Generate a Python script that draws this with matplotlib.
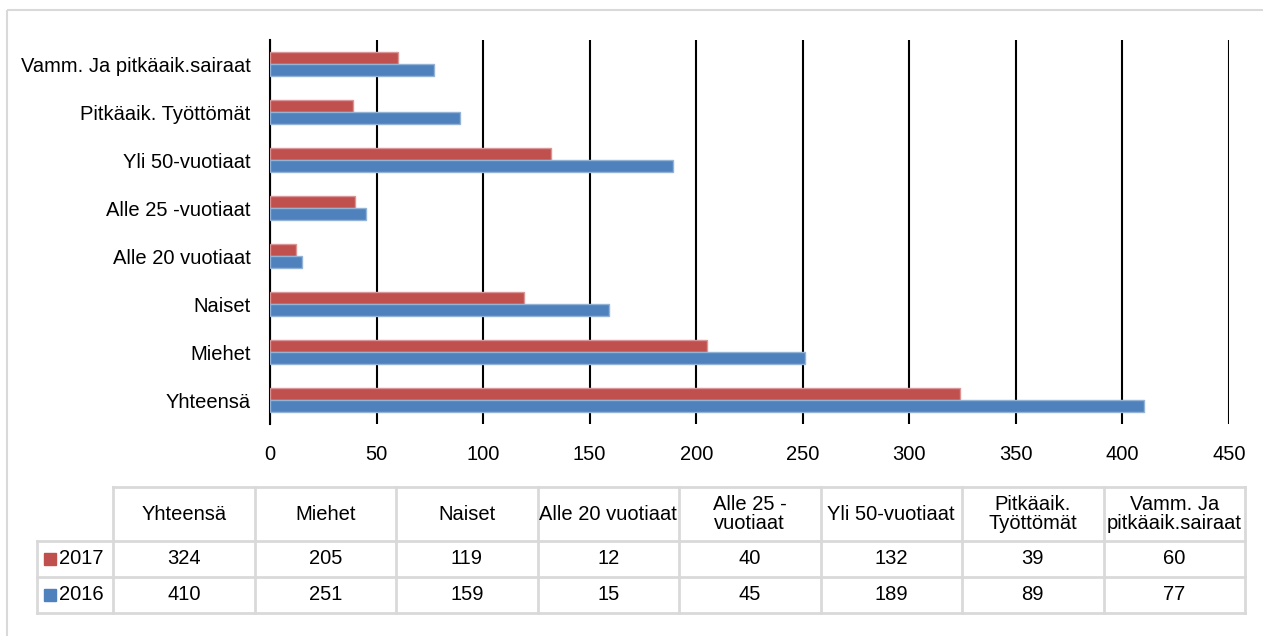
import numpy as np
import matplotlib.pyplot as plt
from matplotlib.patches import Rectangle

# Data
categories = ["Yhteensä", "Miehet", "Naiset", "Alle 20 vuotiaat", "Alle 25 -vuotiaat",
              "Yli 50-vuotiaat", "Pitkäaik. Työttömät", "Vamm. Ja pitkäaik.sairaat"]
table_headers = ["Yhteensä", "Miehet", "Naiset", "Alle 20 vuotiaat", "Alle 25 -\nvuotiaat",
                 "Yli 50-vuotiaat", "Pitkäaik.\nTyöttömät", "Vamm. Ja\npitkäaik.sairaat"]
values_2017 = [324, 205, 119, 12, 40, 132, 39, 60]
values_2016 = [410, 251, 159, 15, 45, 189, 89, 77]
series_names = ["2017", "2016"]
series_colors = ["#C0504D", "#4F81BD"]
edge_colors = ["#D99694", "#95B3D7"]
x_ticks = np.arange(0, 451, 50)

plt.rcParams['font.family'] = ['Liberation Sans Narrow', 'Liberation Sans', 'DejaVu Sans']
plt.rcParams['font.size'] = 14.5

W, H = 1263, 636
fig = plt.figure(figsize=(W / 100, H / 100), dpi=100)

# Background layer for border and table (pixel coordinates)
tax = fig.add_axes([0, 0, 1, 1])
tax.set_xlim(0, W)
tax.set_ylim(H, 0)
tax.axis('off')
tax.add_patch(Rectangle((7, 10), W, H, fill=False, edgecolor='#D9D9D9', lw=1.5))

# Bar chart
ax = fig.add_axes([270 / W, 1 - 424 / H, (1229 - 270) / W, 384 / H])
y = np.arange(len(categories))
h = 0.26
ax.barh(y + h / 2, values_2017, height=h, color=series_colors[0],
        edgecolor=edge_colors[0], linewidth=1, zorder=3)
ax.barh(y - h / 2, values_2016, height=h, color=series_colors[1],
        edgecolor=edge_colors[1], linewidth=1, zorder=3)
ax.set_xlim(0, 450)
ax.set_ylim(-0.5, len(categories) - 0.5)
ax.set_xticks(x_ticks)
ax.set_yticks(y)
ax.set_yticklabels(categories)
ax.xaxis.grid(True, color='black', lw=1.5, zorder=1)
ax.tick_params(axis='x', length=0, pad=15)
ax.tick_params(axis='y', length=0, pad=14)
for side in ['top', 'right', 'bottom']:
    ax.spines[side].set_visible(False)
ax.spines['left'].set_color('black')
ax.spines['left'].set_linewidth(1.5)
ax.set_facecolor('none')

# Data table
line_kw = dict(color='#D9D9D9', lw=2)
col_left, col_w, label_left = 113, 141.5, 37
row_edges = [487, 541, 577, 613]
col_edges = [col_left + col_w * k for k in range(len(table_headers) + 1)]

tax.plot([col_edges[0], col_edges[-1]], [row_edges[0]] * 2, **line_kw)
for r in row_edges[1:]:
    tax.plot([label_left, col_edges[-1]], [r, r], **line_kw)
tax.plot([label_left, label_left], [row_edges[1], row_edges[-1]], **line_kw)
for c in col_edges:
    tax.plot([c, c], [row_edges[0], row_edges[-1]], **line_kw)

for i, name in enumerate(table_headers):
    tax.text((col_edges[i] + col_edges[i + 1]) / 2, (row_edges[0] + row_edges[1]) / 2, name,
             ha='center', va='center', linespacing=1.05)

for r, (sname, vals, col) in enumerate(zip(series_names, [values_2017, values_2016], series_colors)):
    yc = (row_edges[r + 1] + row_edges[r + 2]) / 2
    tax.add_patch(Rectangle((44, yc - 6), 12, 12, color=col))
    tax.text(59, yc, sname, ha='left', va='center')
    for i, v in enumerate(vals):
        tax.text((col_edges[i] + col_edges[i + 1]) / 2, yc, str(v), ha='center', va='center')

fig.savefig('out.png', dpi=100)
